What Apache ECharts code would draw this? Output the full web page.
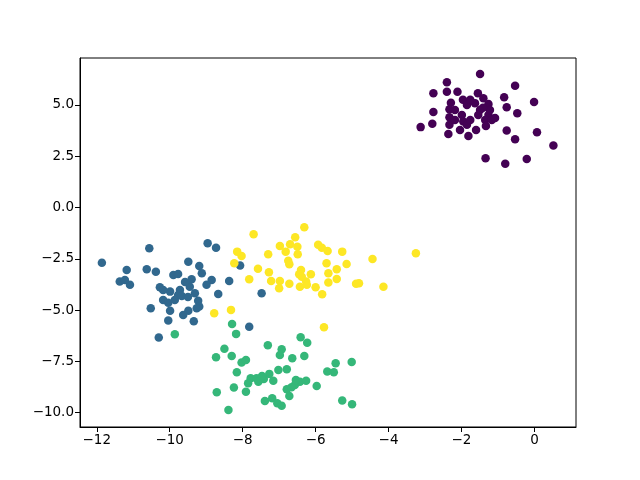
<!DOCTYPE html>
<html>
<head>
<meta charset="utf-8">
<script src="https://cdn.jsdelivr.net/npm/echarts@6/dist/echarts.min.js"></script>
<style>
  html, body { margin: 0; padding: 0; background: #fff; }
  #chart { width: 640px; height: 480px; }
</style>
</head>
<body>
<div id="chart"></div>
<script>
// cluster 0 (purple)
const cluster0 = [
  [-1.49, 6.51], [-2.40, 6.11], [-0.53, 5.94], [-2.77, 5.57], [-2.40, 5.65],
  [-2.11, 5.64], [-1.55, 5.57], [-0.83, 5.38], [-1.96, 5.25], [-2.29, 5.11],
  [-1.40, 5.33], [-1.26, 5.05], [-1.63, 5.09], [-1.85, 5.00], [-0.01, 5.15],
  [-0.76, 4.89], [-2.33, 4.79], [-2.77, 4.66], [-1.49, 4.76], [-0.47, 4.60],
  [-1.99, 4.51], [-1.26, 4.51], [-2.33, 4.40], [-1.35, 4.27], [-1.17, 4.27],
  [-3.12, 3.92], [-2.80, 4.08], [-2.33, 4.03], [-1.95, 4.19], [-1.85, 4.03],
  [-2.04, 3.78], [-1.60, 3.78], [-2.36, 3.59], [-1.81, 3.49], [-0.76, 3.75],
  [-0.53, 3.33], [0.07, 3.67], [0.52, 3.02], [-1.34, 2.40], [-0.80, 2.13],
  [-0.21, 2.37], [-1.76, 5.25], [-1.54, 4.51], [-2.18, 4.76], [-1.22, 4.76],
  [-1.76, 4.27], [-1.33, 3.98], [-2.18, 4.27], [-1.41, 4.86], [-1.08, 4.37]
]
// cluster 1 (blue)
const cluster1 = [
  [-10.56, -1.98], [-8.96, -1.74], [-8.73, -1.96], [-11.86, -2.69], [-9.49, -2.64],
  [-11.18, -3.04], [-10.63, -3.01], [-10.38, -3.13], [-9.19, -2.85], [-9.12, -3.20],
  [-8.07, -2.83], [-11.37, -3.61], [-11.09, -3.77], [-11.23, -3.53], [-9.90, -3.29],
  [-9.77, -3.24], [-9.40, -3.50], [-8.85, -3.53], [-8.37, -3.58], [-8.99, -3.77],
  [-10.27, -3.89], [-9.99, -4.10], [-9.72, -4.02], [-9.45, -3.86], [-10.18, -4.02],
  [-9.77, -4.26], [-9.31, -4.18], [-8.67, -4.21], [-7.48, -4.18], [-10.18, -4.51],
  [-10.04, -4.64], [-9.22, -4.54], [-9.19, -4.83], [-10.52, -4.91], [-9.99, -5.03],
  [-9.49, -5.03], [-9.63, -5.24], [-9.26, -4.91], [-10.04, -5.51], [-9.34, -5.54],
  [-7.82, -5.81], [-10.30, -6.34], [-9.58, -3.63], [-9.86, -4.51], [-9.67, -4.31],
  [-9.50, -4.36]
]
// cluster 2 (green)
const cluster2 = [
  [-8.29, -5.68], [-8.18, -6.16], [-9.86, -6.18], [-6.41, -6.32], [-6.23, -6.59],
  [-7.31, -6.71], [-6.93, -6.91], [-6.98, -7.19], [-6.64, -7.35], [-6.31, -7.24],
  [-8.50, -6.89], [-8.73, -7.30], [-8.30, -7.24], [-8.03, -7.56], [-7.91, -7.43],
  [-5.45, -7.59], [-5.01, -7.53], [-8.16, -8.03], [-7.02, -7.92], [-6.79, -7.88],
  [-5.68, -8.00], [-5.50, -8.03], [-7.27, -8.11], [-7.78, -8.32], [-7.62, -8.32],
  [-7.42, -8.36], [-7.16, -8.44], [-7.85, -8.57], [-7.57, -8.49], [-6.43, -8.49],
  [-6.26, -8.45], [-6.57, -8.65], [-5.97, -8.70], [-6.79, -8.86], [-6.66, -8.76],
  [-8.24, -8.78], [-7.91, -8.98], [-8.71, -9.01], [-6.72, -9.19], [-7.39, -9.43],
  [-7.19, -9.30], [-7.05, -9.54], [-6.93, -9.66], [-5.27, -9.41], [-5.00, -9.59],
  [-8.39, -9.87], [-7.47, -8.21], [-6.54, -8.41]
]
// cluster 3 (yellow)
const cluster3 = [
  [-6.31, -0.96], [-7.70, -1.30], [-6.56, -1.45], [-6.98, -1.87], [-6.70, -1.79],
  [-6.50, -1.91], [-6.82, -2.15], [-5.93, -1.82], [-5.83, -1.96], [-5.67, -2.12],
  [-5.27, -2.15], [-8.15, -2.15], [-8.03, -2.36], [-7.30, -2.28], [-6.49, -2.28],
  [-8.23, -2.72], [-6.75, -2.59], [-6.72, -2.76], [-5.70, -2.72], [-5.15, -2.75],
  [-4.44, -2.51], [-3.25, -2.23], [-7.58, -2.99], [-7.28, -3.15], [-6.40, -3.04],
  [-6.13, -3.25], [-6.45, -3.25], [-5.65, -3.20], [-5.42, -3.01], [-7.82, -3.50],
  [-7.22, -3.58], [-6.98, -3.58], [-6.72, -3.72], [-6.26, -3.61], [-6.38, -3.37],
  [-5.42, -3.48], [-5.65, -3.66], [-7.00, -3.93], [-6.43, -3.86], [-6.24, -3.77],
  [-6.00, -3.89], [-5.82, -4.23], [-4.89, -3.72], [-4.81, -3.69], [-4.14, -3.86],
  [-8.78, -5.15], [-8.32, -4.99], [-5.77, -5.84]
]

const xTicks = [-12, -10, -8, -6, -4, -2, 0]
const yTicks = [-10, -7.5, -5, -2.5, 0, 2.5, 5]
const colors = ['#440154', '#31688e', '#35b779', '#fde725']

const minus = s => String(s).replace('-', '\u2212')

const chart = echarts.init(document.getElementById('chart'))

function axisCommon(ticks, fmt) {
  return {
    axisLine: { show: true, onZero: false, lineStyle: { color: '#000', width: 1 } },
    axisTick: { show: true, inside: false, length: 5, lineStyle: { color: '#000', width: 1 }, customValues: ticks },
    axisLabel: {
      show: true,
      customValues: ticks,
      color: '#000',
      fontFamily: 'DejaVu Sans',
      fontSize: 13.5,
      margin: 6,
      formatter: fmt
    },
    splitLine: { show: false }
  }
}

chart.setOption({
  animation: false,
  grid: {
    left: 80,
    right: 64,
    top: 58,
    bottom: 53,
    containLabel: false,
    show: true,
    borderColor: '#000',
    borderWidth: 1,
    backgroundColor: 'transparent'
  },
  xAxis: Object.assign({
    type: 'value',
    min: -12.46,
    max: 1.14
  }, axisCommon(xTicks, v => minus(v))),
  yAxis: Object.assign({
    type: 'value',
    min: -10.70,
    max: 7.29
  }, axisCommon(yTicks, v => minus(Number(v).toFixed(1)))),
  series: [cluster0, cluster1, cluster2, cluster3].map((d, i) => ({
    type: 'scatter',
    data: d,
    symbolSize: 8.5,
    itemStyle: { color: colors[i], opacity: 1 }
  }))
})
</script>
</body>
</html>
